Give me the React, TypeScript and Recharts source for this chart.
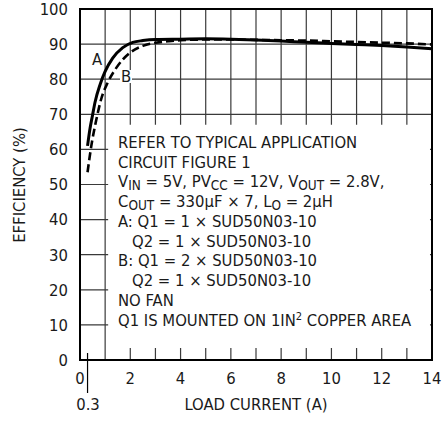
import React from "react";
import {
  CartesianGrid,
  Line,
  LineChart,
  ReferenceArea,
  ReferenceLine,
  XAxis,
  YAxis,
} from "recharts";

// curve A (solid) and curve B (dashed)
const currentA = [0.3, 0.4, 0.5, 0.6, 0.8, 1.0, 1.3, 1.7, 2.1, 2.5, 3, 4, 5, 6, 7, 8, 9, 10, 11, 12, 13, 14];
const efficiencyA = [61, 66, 69.8, 73.5, 78.5, 82.2, 86, 89, 90.5, 91, 91.3, 91.4, 91.5, 91.4, 91.2, 90.9, 90.5, 90.2, 89.9, 89.6, 89.2, 88.7];

const currentB = [0.3, 0.45, 0.65, 0.85, 1.1, 1.45, 2, 2.5, 3, 3.5, 4, 5, 6, 7, 8, 9, 10, 11, 12, 13, 14];
const efficiencyB = [53.5, 61, 68.5, 74.5, 79, 83.3, 87.6, 89.5, 90.4, 90.8, 91.1, 91.3, 91.3, 91.2, 91.1, 91, 90.8, 90.6, 90.4, 90.2, 89.9];

// grid every 1 A, labels every 2 A
const xTicks = [0, 1, 2, 3, 4, 5, 6, 7, 8, 9, 10, 11, 12, 13, 14];
const yTicks = [0, 10, 20, 30, 40, 50, 60, 70, 80, 90, 100];

const seriesA = currentA.map((x, i) => ({ x, y: efficiencyA[i] }));
const seriesB = currentB.map((x, i) => ({ x, y: efficiencyB[i] }));

const FONT = "'Liberation Sans Narrow', 'Arial Narrow', 'DejaVu Sans Condensed', 'Liberation Sans', Arial, sans-serif";
const INK = "#1a1a1a";
const SIZE = 16.5;
const SUB = 13.5;

function XTick(props: any) {
  const { x, y, payload } = props;
  if (payload.value % 2 !== 0) return <g />;
  return (
    <text x={x} y={y} dy="0.71em" textAnchor="middle" fontFamily={FONT} fontSize={SIZE} fill={INK}>
      {payload.value}
    </text>
  );
}

// text overlay, drawn above the chart so the white notes box does not hide it
function Notes() {
  const left = 118;
  const indent = 132;
  return (
    <svg
      width={443}
      height={423}
      style={{ position: "absolute", left: 0, top: 0, pointerEvents: "none" }}
    >
      <g fontFamily={FONT} fontSize={SIZE} fill={INK}>
        <text x={left} y={148}>REFER TO TYPICAL APPLICATION</text>
        <text x={left} y={167.5}>CIRCUIT FIGURE 1</text>
        <text x={left} y={187}>
          <tspan>V</tspan>
          <tspan dy={3} fontSize={SUB}>IN</tspan>
          <tspan dy={-3}> = 5V, PV</tspan>
          <tspan dy={3} fontSize={SUB}>CC</tspan>
          <tspan dy={-3}> = 12V, V</tspan>
          <tspan dy={3} fontSize={SUB}>OUT</tspan>
          <tspan dy={-3}> = 2.8V,</tspan>
        </text>
        <text x={left} y={207}>
          <tspan>C</tspan>
          <tspan dy={3} fontSize={SUB}>OUT</tspan>
          <tspan dy={-3}> = 330µF × 7, L</tspan>
          <tspan dy={3} fontSize={SUB}>O</tspan>
          <tspan dy={-3}> = 2µH</tspan>
        </text>
        <text x={left} y={226.5}>A: Q1 = 1 × SUD50N03-10</text>
        <text x={indent} y={246.5}>Q2 = 1 × SUD50N03-10</text>
        <text x={left} y={266}>B: Q1 = 2 × SUD50N03-10</text>
        <text x={indent} y={286}>Q2 = 1 × SUD50N03-10</text>
        <text x={left} y={306}>NO FAN</text>
        <text x={left} y={325.5}>
          <tspan>Q1 IS MOUNTED ON 1IN</tspan>
          <tspan dy={-6} fontSize={11}>2</tspan>
          <tspan dy={6}> COPPER AREA</tspan>
        </text>

        <text x={97} y={65} textAnchor="middle">A</text>
        <rect x={120} y={70} width={12} height={13} fill="#fff" />
        <text x={126} y={82} textAnchor="middle">B</text>

        <text x={88} y={410} textAnchor="middle">0.3</text>
        <text x={256} y={410} textAnchor="middle">LOAD CURRENT (A)</text>
        <text x={25} y={185} textAnchor="middle" transform="rotate(-90 25 185)">
          EFFICIENCY (%)
        </text>
      </g>
    </svg>
  );
}

export default function App() {
  return (
    <div style={{ position: "absolute", left: 0, top: 0, width: 443, height: 423, background: "#fff" }}>
      <LineChart width={443} height={423} margin={{ top: 9, right: 11, bottom: 0, left: 0 }}>
        <CartesianGrid stroke="#3a3a3a" strokeWidth={1.2} />
        <XAxis
          type="number"
          dataKey="x"
          domain={[0, 14]}
          ticks={xTicks}
          interval={0}
          height={63}
          axisLine={false}
          tickLine={false}
          tickSize={6}
          tickMargin={6}
          tick={<XTick />}
          allowDataOverflow
        />
        <YAxis
          type="number"
          domain={[0, 100]}
          ticks={yTicks}
          interval={0}
          width={80}
          axisLine={false}
          tickLine={false}
          tickSize={6}
          tickMargin={6}
          tick={{ fontFamily: FONT, fontSize: SIZE, fill: INK }}
        />
        <ReferenceArea x1={1.12} x2={13.92} y1={3.4} y2={67} fill="#fff" fillOpacity={1} stroke="none" />
        <ReferenceArea x1={0} x2={14} y1={0} y2={100} fill="none" stroke="#000" strokeWidth={2} />
        <ReferenceLine
          segment={[{ x: 0.3, y: 2 }, { x: 0.3, y: -9.4 }]}
          stroke="#000"
          strokeWidth={1.2}
          ifOverflow="visible"
        />
        <Line
          data={seriesB}
          dataKey="y"
          type="monotone"
          stroke="#000"
          strokeWidth={2.6}
          strokeDasharray="8 4"
          dot={false}
          isAnimationActive={false}
        />
        <Line
          data={seriesA}
          dataKey="y"
          type="monotone"
          stroke="#000"
          strokeWidth={3}
          dot={false}
          isAnimationActive={false}
        />
      </LineChart>
      <Notes />
    </div>
  );
}
